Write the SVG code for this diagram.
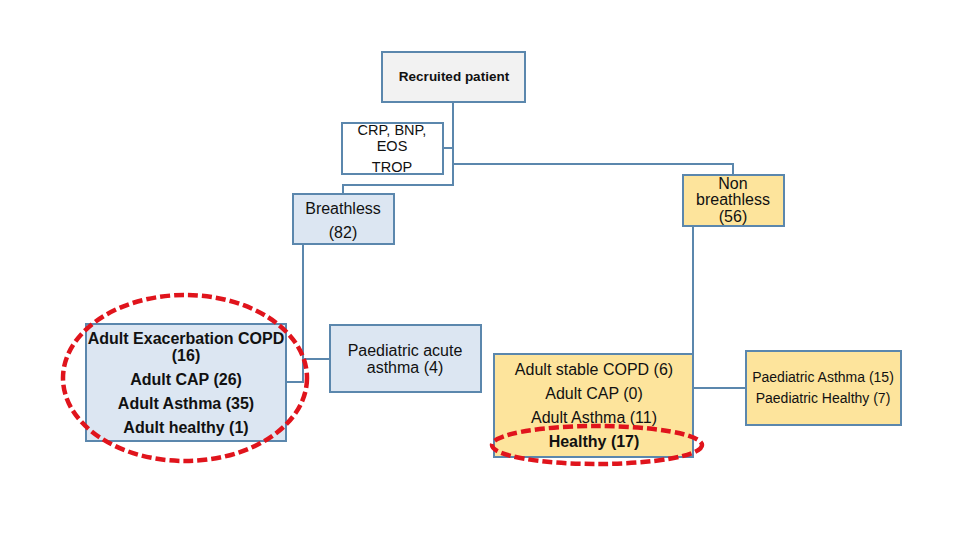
<svg xmlns="http://www.w3.org/2000/svg" width="960" height="540" viewBox="0 0 960 540">
<style>
.box{stroke:#5b87ad;stroke-width:2}
.blue{fill:#dce6f2}
.yel{fill:#fde49c}
.grey{fill:#f2f2f2}
.white{fill:#ffffff}
.t{font-family:"Liberation Sans",Arial,sans-serif;font-size:16px;fill:#111;text-anchor:middle}
.s{font-size:14px}
.c{font-size:14.5px}
.r{font-size:13.5px}
.b{font-weight:bold}
.con{fill:none;stroke:#5b87ad;stroke-width:2}
.hl{fill:none;stroke:#e0141c;stroke-width:4.5;stroke-dasharray:10 4}
</style>
<rect width="960" height="540" fill="#ffffff"/>
<g id="connectors">
<polyline class="con" points="453,102 453,185 343,185 343,194"/>
<polyline class="con" points="443,148 453,148"/>
<polyline class="con" points="453,164 733,164 733,175"/>
<polyline class="con" points="303,244 303,382 286,382"/>
<polyline class="con" points="303,359 330,359"/>
<polyline class="con" points="693,226 693,388 746,388"/>
</g>
<g id="recruited">
<rect class="box grey" x="382" y="52" width="143" height="50"/>
<text class="t r b" x="454" y="81">Recruited patient</text>
</g>
<g id="crp">
<rect class="box white" x="342" y="123" width="101" height="51"/>
<text class="t c" x="392" y="135">CRP, BNP,</text>
<text class="t c" x="392" y="151">EOS</text>
<text class="t c" x="392" y="172">TROP</text>
</g>
<g id="breathless">
<rect class="box blue" x="293" y="194" width="101" height="50"/>
<text class="t" x="343" y="214">Breathless</text>
<text class="t" x="343" y="238">(82)</text>
</g>
<g id="nonbreathless">
<rect class="box yel" x="683" y="175" width="101" height="51"/>
<text class="t" x="733" y="189">Non</text>
<text class="t" x="733" y="205">breathless</text>
<text class="t" x="733" y="222">(56)</text>
</g>
<g id="adult-breathless">
<rect class="box blue" x="86" y="324" width="200" height="117"/>
<text class="t b" x="186" y="344">Adult Exacerbation COPD</text>
<text class="t b" x="186" y="361">(16)</text>
<text class="t b" x="186" y="385">Adult CAP (26)</text>
<text class="t b" x="186" y="409">Adult Asthma (35)</text>
<text class="t b" x="186" y="433">Adult healthy (1)</text>
</g>
<g id="paed-acute">
<rect class="box blue" x="330" y="325" width="151" height="67"/>
<text class="t" x="405" y="356">Paediatric acute</text>
<text class="t" x="405" y="373">asthma (4)</text>
</g>
<g id="adult-stable">
<rect class="box yel" x="494" y="354" width="199" height="103"/>
<text class="t" x="594" y="375">Adult stable COPD (6)</text>
<text class="t" x="594" y="399">Adult CAP (0)</text>
<text class="t" x="594" y="423">Adult Asthma (11)</text>
<text class="t b" x="594" y="447">Healthy (17)</text>
</g>
<g id="paed-non">
<rect class="box yel" x="746" y="351" width="155" height="74"/>
<text class="t s" x="823" y="382">Paediatric Asthma (15)</text>
<text class="t s" x="823" y="403">Paediatric Healthy (7)</text>
</g>
<g id="highlights">
<ellipse class="hl" cx="185" cy="378" rx="122" ry="83"/>
<ellipse class="hl" cx="597" cy="445" rx="105" ry="19"/>
</g>
</svg>
